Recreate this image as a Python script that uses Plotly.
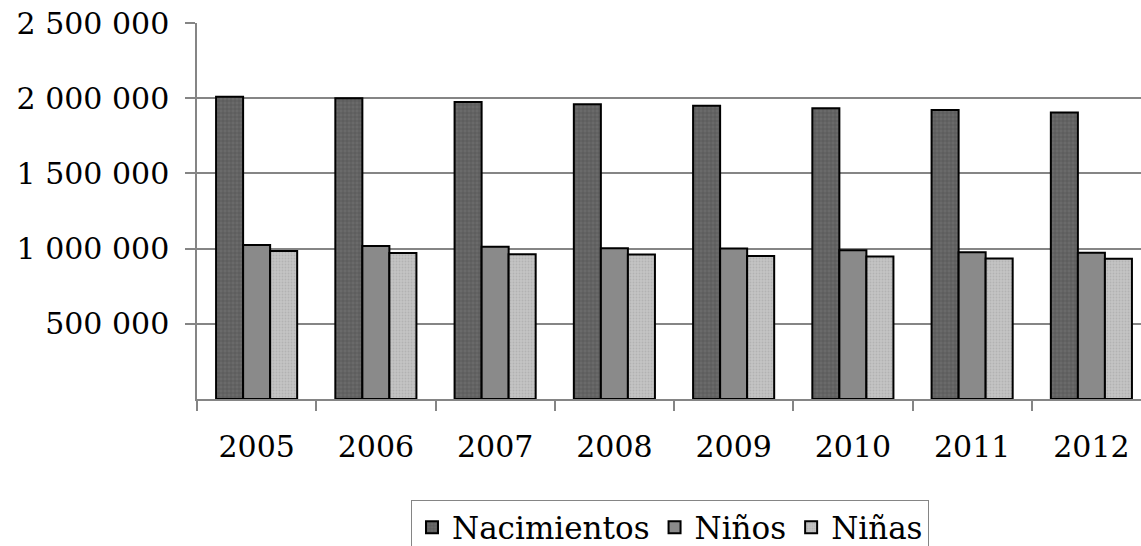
import plotly.graph_objects as go

years = ["2005", "2006", "2007", "2008", "2009", "2010", "2011", "2012"]
nacimientos = [2010000, 2000000, 1975000, 1960000, 1950000, 1933000, 1922000, 1905000]
ninos = [1024000, 1017000, 1012000, 1002000, 1000000, 989000, 975000, 973000]
ninas = [984000, 971000, 963000, 960000, 950000, 947000, 935000, 932000]
y_tickvals = [500000, 1000000, 1500000, 2000000, 2500000]
y_ticktext = ["500 000", "1 000 000", "1 500 000", "2 000 000", "2 500 000"]

FONT = "DejaVu Serif, serif"
FS = 30
GRID = "#858585"

fig = go.Figure()
fig.add_trace(go.Bar(
    name="Nacimientos", x=years, y=nacimientos,
    marker=dict(color="#595959", line=dict(color="black", width=2),
                pattern=dict(shape="+", size=4, solidity=0.3,
                             fgcolor="#3c3c3c", bgcolor="#6a6a6a")),
))
fig.add_trace(go.Bar(
    name="Niños", x=years, y=ninos,
    marker=dict(color="#8a8a8a", line=dict(color="black", width=2)),
))
fig.add_trace(go.Bar(
    name="Niñas", x=years, y=ninas,
    marker=dict(color="#bdbdbd", line=dict(color="black", width=2),
                pattern=dict(shape=".", size=3, solidity=0.3,
                             fgcolor="#a0a0a0", bgcolor="#c4c4c4")),
))

fig.update_layout(
    width=1141, height=546,
    margin=dict(l=197, r=0, t=23, b=147, autoexpand=False),
    paper_bgcolor="white", plot_bgcolor="white",
    font=dict(family=FONT, size=FS, color="black"),
    barmode="group", bargap=0.32, bargroupgap=0,
    showlegend=True,
    legend=dict(orientation="h", x=0.2267, xanchor="left", y=-0.2676, yanchor="top",
                bordercolor=GRID, borderwidth=1,
                font=dict(family=FONT, size=31, color="black"),
                itemwidth=30, traceorder="normal"),
)
fig.update_xaxes(
    type="category", range=[-0.5, 7.416], automargin=False,
    showline=True, linecolor=GRID, linewidth=1.5,
    ticks="outside", tickson="boundaries", ticklen=10, tickcolor=GRID, tickwidth=1.5,
    showgrid=False, ticklabelstandoff=20,
    tickfont=dict(family=FONT, size=FS, color="black"),
)
fig.update_yaxes(
    range=[0, 2500000], automargin=False,
    tickvals=y_tickvals, ticktext=y_ticktext,
    showline=True, linecolor=GRID, linewidth=1.5,
    ticks="outside", ticklen=10, tickcolor=GRID, tickwidth=1.5,
    showgrid=True, gridcolor=GRID, gridwidth=1.5,
    zeroline=False, ticklabelstandoff=10,
    tickfont=dict(family=FONT, size=FS, color="black"),
)

fig.write_html(
    "out.html",
    config={"displayModeBar": False},
    post_script="document.body.style.margin='0';document.body.style.padding='0';"
                "document.body.style.overflow='hidden';",
)
